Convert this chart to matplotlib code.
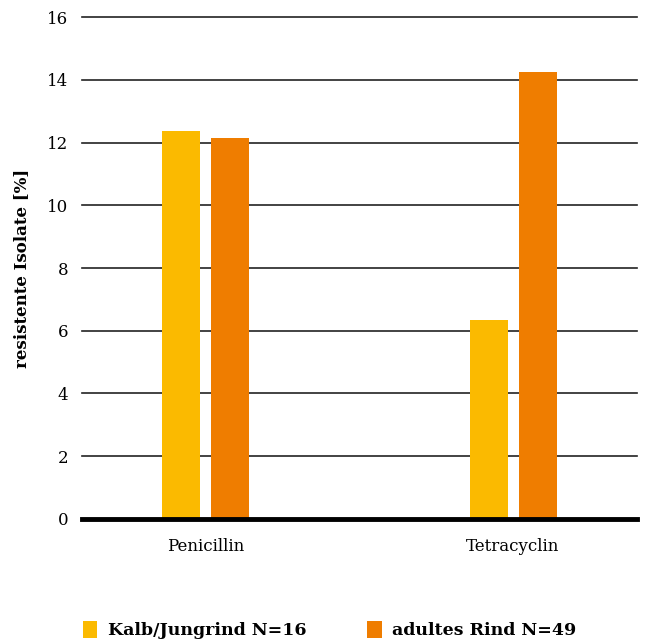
import matplotlib
matplotlib.use('Agg')
import matplotlib.pyplot as plt
import numpy as np

# Daten
categories = ['Penicillin', 'Tetracyclin']
kalb = [12.38, 6.35]
adult = [12.13, 14.24]
series_names = ['Kalb/Jungrind N=16', 'adultes Rind N=49']
colors = ['#FBBA00', '#EF7D00']
yticks = [0, 2, 4, 6, 8, 10, 12, 14, 16]

plt.rcParams['font.family'] = ['DejaVu Serif']

fig = plt.figure(figsize=(6.56, 6.42), dpi=100)
ax = fig.add_axes([0.125, 0.1916, 0.846, 0.7819])

x = np.arange(len(categories))
w = 0.1236
off = 0.0797
b1 = ax.bar(x - off, kalb, w, color=colors[0], zorder=3)
b2 = ax.bar(x + off, adult, w, color=colors[1], zorder=3)

ax.set_xlim(-0.4016, 1.403)
ax.set_ylim(0, 16)
ax.set_yticks(yticks)
ax.set_xticks(x)
ax.set_xticklabels(categories, fontsize=12)
ax.tick_params(axis='y', length=0, pad=10, labelsize=12)
ax.tick_params(axis='x', length=0, pad=14)

# Gitterlinien
for yv in yticks[1:]:
    ax.axhline(yv, color='#222222', lw=1.2, zorder=1, clip_on=False)
ax.axhline(0, color='black', lw=3.5, zorder=4, clip_on=False)

for s in ax.spines.values():
    s.set_visible(False)

ax.set_ylabel('resistente Isolate [%]', fontsize=12, fontweight='bold', labelpad=12)

# Legende
fig.legend([b1, b2], series_names, loc='lower left', bbox_to_anchor=(0.102, -0.02),
           ncol=2, frameon=False, prop={'size': 12.5, 'weight': 'bold'},
           handlelength=0.85, handleheight=1.1, columnspacing=3.5, handletextpad=0.6)

fig.savefig('out.png', dpi=100)
